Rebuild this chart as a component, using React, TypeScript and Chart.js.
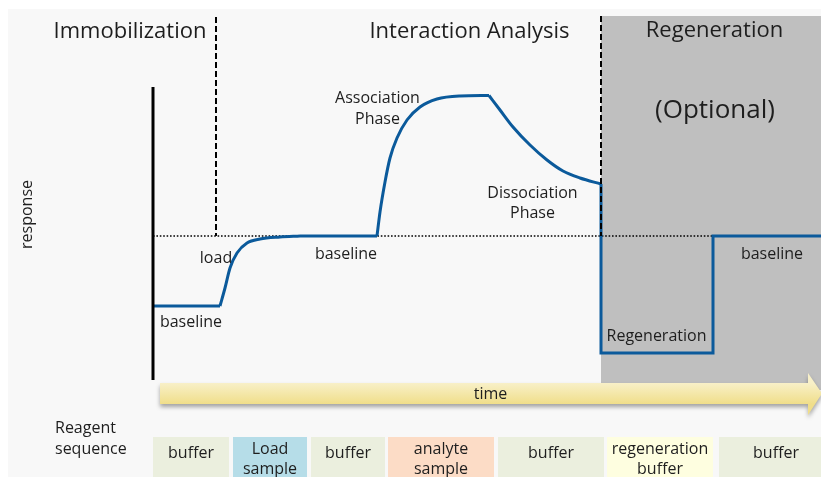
import React, { useEffect, useRef } from "react";
import { Chart, registerables } from "chart.js";

Chart.register(...registerables);

// x = time (0 = start of the run), y = response (0 = running-buffer baseline)
const baselineStart = [
  { x: 0, y: -70 },
  { x: 67, y: -70 },
];
const loadPhase = [
  { x: 67, y: -70 },
  { x: 72, y: -52 },
  { x: 77, y: -32 },
  { x: 84, y: -17 },
  { x: 94, y: -7 },
  { x: 107, y: -3 },
  { x: 127, y: -1 },
  { x: 147, y: 0 },
];
const baselineLoaded = [
  { x: 147, y: 0 },
  { x: 224, y: 0 },
];
const associationPhase = [
  { x: 224, y: 0 },
  { x: 227, y: 24 },
  { x: 232, y: 54 },
  { x: 237, y: 78 },
  { x: 244, y: 98 },
  { x: 254, y: 116 },
  { x: 267, y: 129 },
  { x: 284, y: 137 },
  { x: 307, y: 140 },
  { x: 336, y: 140.5 },
];
const dissociationPhase = [
  { x: 336, y: 140.5 },
  { x: 347, y: 126 },
  { x: 360, y: 109 },
  { x: 377, y: 91 },
  { x: 394, y: 76 },
  { x: 410, y: 65 },
  { x: 427, y: 58 },
  { x: 448, y: 52 },
];
const regenerationPhase = [
  { x: 448, y: 52 },
  { x: 448, y: -117 },
  { x: 560, y: -117 },
  { x: 560, y: 0 },
  { x: 668, y: 0 },
];

// reference lines
const responseAxis = [
  { x: 0, y: 149 },
  { x: 0, y: -144 },
];
const baselineLevel = [
  { x: 0, y: 0 },
  { x: 668, y: 0 },
];
const immobilizationEnd = [
  { x: 63, y: 219 },
  { x: 63, y: 0 },
];
const interactionEnd = [
  { x: 448, y: 220 },
  { x: 448, y: 0 },
];

// reagent sequence (time spans)
const reagentLabels = [
  ["buffer"],
  ["Load", "sample"],
  ["buffer"],
  ["analyte", "sample"],
  ["buffer"],
  ["regeneration", "buffer"],
  ["buffer"],
];
const reagentStart = [0, 80, 158, 235, 345, 454, 566];
const reagentEnd = [76, 154, 232, 341, 451, 560, 680];
const reagentColors = ["#ebefde", "#b6dde8", "#ebefde", "#fcdcc6", "#ebefde", "#fefee0", "#ebefde"];

// regeneration region (time span)
const regenStart = 448;
const regenEnd = 680;

const FONT = '"Open Sans", Lato, sans-serif';
const TEXT = "#1e1e1e";

type Lbl = { text: string; x: number; y: number; size: number; align?: CanvasTextAlign };
const labels: Lbl[] = [
  { text: "Immobilization", x: -23, y: 198, size: 22 },
  { text: "Interaction Analysis", x: 316.5, y: 198, size: 22 },
  { text: "Regeneration", x: 561.5, y: 199, size: 22 },
  { text: "(Optional)", x: 562, y: 118, size: 26 },
  { text: "Association", x: 224.5, y: 133, size: 16 },
  { text: "Phase", x: 224.5, y: 112, size: 16 },
  { text: "Dissociation", x: 379.5, y: 38, size: 16 },
  { text: "Phase", x: 379.5, y: 18, size: 16 },
  { text: "load", x: 63, y: -26.7, size: 16 },
  { text: "baseline", x: 38, y: -91, size: 16 },
  { text: "baseline", x: 193, y: -23, size: 16 },
  { text: "baseline", x: 619, y: -23, size: 16 },
  { text: "Regeneration", x: 503.5, y: -104.7, size: 16 },
  { text: "time", x: 337.5, y: -163, size: 16 },
  { text: "Reagent", x: -98, y: -196.7, size: 16, align: "left" },
  { text: "sequence", x: -98, y: -218, size: 16, align: "left" },
];

const diagramPlugin = {
  id: "diagram",
  beforeDraw(chart: any) {
    const { ctx, width, height } = chart;
    ctx.save();
    ctx.fillStyle = "#ffffff";
    ctx.fillRect(0, 0, width, height);
    ctx.fillStyle = "#f8f8f8";
    ctx.fillRect(0, 1, width, height);
    ctx.restore();
  },
  beforeDatasetsDraw(chart: any) {
    const { ctx } = chart;
    const xs = chart.scales.x;
    const ys = chart.scales.y;
    ctx.save();
    ctx.fillStyle = "#bfbfbf";
    const x0 = xs.getPixelForValue(regenStart);
    const x1 = xs.getPixelForValue(regenEnd);
    const y0 = ys.getPixelForValue(220);
    const y1 = ys.getPixelForValue(-154);
    ctx.fillRect(x0, y0, x1 - x0, y1 - y0);
    ctx.restore();
  },
  afterDatasetsDraw(chart: any) {
    const { ctx } = chart;
    const xs = chart.scales.x;
    const ys = chart.scales.y;
    const px = (v: number) => xs.getPixelForValue(v);
    const py = (v: number) => ys.getPixelForValue(v);
    ctx.save();

    // time arrow
    const bx0 = px(7);
    const bx1 = px(655);
    const tip = px(669);
    const yt = py(-147);
    const yb = py(-168);
    const ht = py(-137);
    const hb = py(-179);
    const ym = (yt + yb) / 2;
    const grad = ctx.createLinearGradient(0, yt, 0, yb);
    grad.addColorStop(0, "#f8f0c8");
    grad.addColorStop(1, "#f0de8a");
    ctx.save();
    ctx.shadowColor = "rgba(0,0,0,0.35)";
    ctx.shadowBlur = 4;
    ctx.shadowOffsetY = 3;
    ctx.beginPath();
    ctx.moveTo(bx0, yt);
    ctx.lineTo(bx1, yt);
    ctx.lineTo(bx1, ht);
    ctx.lineTo(tip, ym);
    ctx.lineTo(bx1, hb);
    ctx.lineTo(bx1, yb);
    ctx.lineTo(bx0, yb);
    ctx.closePath();
    ctx.fillStyle = grad;
    ctx.fill();
    ctx.restore();

    // reagent boxes
    const boxTop = py(-201);
    const boxBottom = py(-245);
    ctx.textAlign = "center";
    ctx.textBaseline = "alphabetic";
    ctx.font = `16px ${FONT}`;
    reagentLabels.forEach((lines, i) => {
      const a = px(reagentStart[i]);
      const b = px(reagentEnd[i]);
      ctx.fillStyle = reagentColors[i];
      ctx.fillRect(a, boxTop, b - a, boxBottom - boxTop);
      ctx.fillStyle = TEXT;
      const cx = (a + b) / 2;
      if (lines.length === 1) {
        ctx.fillText(lines[0], cx, py(-222));
      } else {
        ctx.fillText(lines[0], cx, py(-218));
        ctx.fillText(lines[1], cx, py(-238));
      }
    });

    // labels
    labels.forEach((l) => {
      ctx.font = `${l.size}px ${FONT}`;
      ctx.fillStyle = TEXT;
      ctx.textAlign = l.align || "center";
      ctx.fillText(l.text, px(l.x), py(l.y));
    });

    // response axis title
    ctx.save();
    ctx.translate(px(-126), py(21.5));
    ctx.rotate(-Math.PI / 2);
    ctx.font = `16px ${FONT}`;
    ctx.textAlign = "center";
    ctx.textBaseline = "middle";
    ctx.fillStyle = TEXT;
    ctx.fillText("response", 0, 0);
    ctx.restore();

    ctx.restore();
  },
};

const curveStyle = {
  borderColor: "#0b5a9b",
  borderWidth: 3,
  pointRadius: 0,
  fill: false,
  cubicInterpolationMode: "monotone" as const,
  borderJoinStyle: "miter" as const,
  order: 1,
};

export default function App() {
  const ref = useRef<HTMLCanvasElement | null>(null);
  useEffect(() => {
    if (!ref.current) return;
    const chart = new Chart(ref.current, {
      type: "line",
      data: {
        datasets: [
          { data: responseAxis, borderColor: "#000", borderWidth: 3, pointRadius: 0, order: 0 },
          { data: immobilizationEnd, borderColor: "#000", borderWidth: 2, borderDash: [6, 3], pointRadius: 0, order: 0 },
          { data: interactionEnd, borderColor: "#000", borderWidth: 2, borderDash: [6, 3], pointRadius: 0, order: 0 },
          { data: baselineLevel, borderColor: "#000", borderWidth: 1.6, borderDash: [1.6, 1.8], pointRadius: 0, order: 2 },
          { ...curveStyle, data: baselineStart },
          { ...curveStyle, data: loadPhase },
          { ...curveStyle, data: baselineLoaded },
          { ...curveStyle, data: associationPhase },
          { ...curveStyle, data: dissociationPhase },
          { ...curveStyle, data: regenerationPhase, cubicInterpolationMode: "default", tension: 0 },
        ] as any,
      },
      options: {
        animation: false,
        responsive: false,
        maintainAspectRatio: false,
        layout: { padding: 0 },
        plugins: { legend: { display: false }, tooltip: { enabled: false } },
        scales: {
          x: { type: "linear", min: -145, max: 668, display: false },
          y: { type: "linear", min: -241, max: 228, display: false },
        },
        elements: { line: { tension: 0 } },
      },
      plugins: [diagramPlugin],
    });
    return () => chart.destroy();
  }, []);
  return (
    <div style={{ position: "fixed", left: 8, top: 8, width: 813, height: 469 }}>
      <canvas ref={ref} width={813} height={469} style={{ display: "block" }} />
    </div>
  );
}
